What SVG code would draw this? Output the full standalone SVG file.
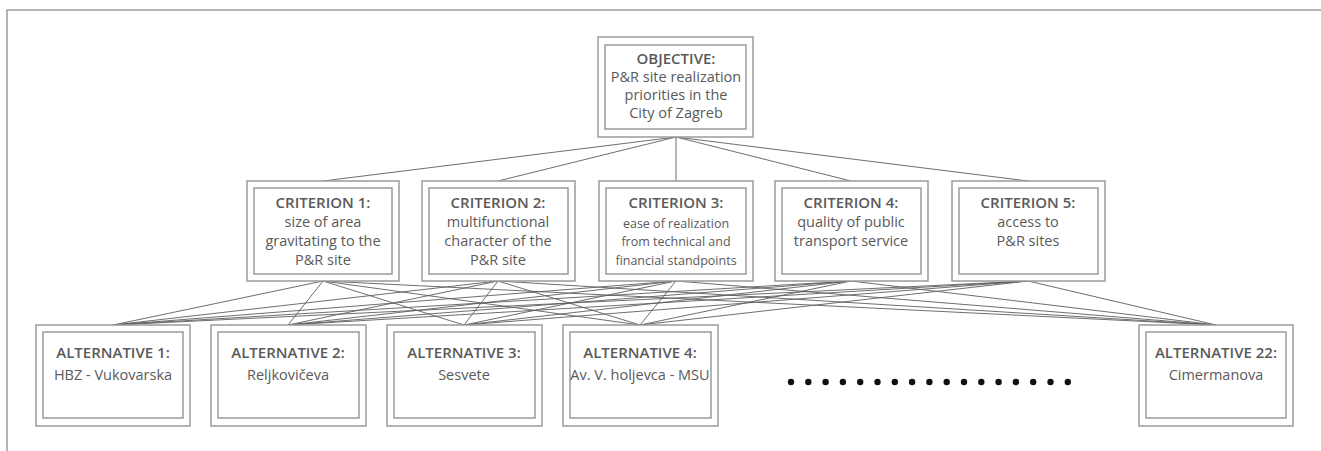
<svg xmlns="http://www.w3.org/2000/svg" width="1321" height="451" viewBox="0 0 1321 451">
<style>
.o{fill:#fff;stroke:#9a9a9a;stroke-width:1.5}
.i{fill:none;stroke:#9a9a9a;stroke-width:1.5}
text{font-family:"Open Sans","Noto Sans",sans-serif;fill:#5a5a5a;text-anchor:middle;font-size:14.5px}
.h{font-weight:600;font-size:15px}
.s{font-size:12.5px}
.c line{stroke:#5e5e5e;stroke-width:0.9}
.frame{stroke:#9a9a9a;stroke-width:1.5;fill:none}
</style>
<rect width="1321" height="451" fill="#fff"/>
<path class="frame" d="M7,451 V10 H1321"/>
<g class="c" id="connectors">
<line x1="676" y1="137" x2="323" y2="181"/>
<line x1="676" y1="137" x2="498" y2="181"/>
<line x1="676" y1="137" x2="676" y2="181"/>
<line x1="676" y1="137" x2="851" y2="181"/>
<line x1="676" y1="137" x2="1028" y2="181"/>
<line x1="323" y1="281" x2="113" y2="325"/><line x1="323" y1="281" x2="288" y2="325"/><line x1="323" y1="281" x2="464" y2="325"/><line x1="323" y1="281" x2="640" y2="325"/><line x1="323" y1="281" x2="1216" y2="325"/>
<line x1="498" y1="281" x2="113" y2="325"/><line x1="498" y1="281" x2="288" y2="325"/><line x1="498" y1="281" x2="464" y2="325"/><line x1="498" y1="281" x2="640" y2="325"/><line x1="498" y1="281" x2="1216" y2="325"/>
<line x1="676" y1="281" x2="113" y2="325"/><line x1="676" y1="281" x2="288" y2="325"/><line x1="676" y1="281" x2="464" y2="325"/><line x1="676" y1="281" x2="640" y2="325"/><line x1="676" y1="281" x2="1216" y2="325"/>
<line x1="851" y1="281" x2="113" y2="325"/><line x1="851" y1="281" x2="288" y2="325"/><line x1="851" y1="281" x2="464" y2="325"/><line x1="851" y1="281" x2="640" y2="325"/><line x1="851" y1="281" x2="1216" y2="325"/>
<line x1="1028" y1="281" x2="113" y2="325"/><line x1="1028" y1="281" x2="288" y2="325"/><line x1="1028" y1="281" x2="464" y2="325"/><line x1="1028" y1="281" x2="640" y2="325"/><line x1="1028" y1="281" x2="1216" y2="325"/>
</g>
<g id="objective">
<rect class="o" x="598" y="37" width="155" height="100"/>
<rect class="i" x="605" y="45" width="141" height="84"/>
<text x="676" y="64" class="h">OBJECTIVE:</text>
<text x="676" y="82">P&amp;R site realization</text>
<text x="676" y="100">priorities in the</text>
<text x="676" y="118">City of Zagreb</text>
</g>
<g id="criterion1">
<rect class="o" x="247" y="181" width="152" height="100"/>
<rect class="i" x="254" y="188" width="138" height="86"/>
<text x="323" y="208" class="h">CRITERION 1:</text>
<text x="323" y="227">size of area</text>
<text x="323" y="246">gravitating to the</text>
<text x="323" y="265">P&amp;R site</text>
</g>
<g id="criterion2">
<rect class="o" x="422" y="181" width="153" height="100"/>
<rect class="i" x="429" y="188" width="139" height="86"/>
<text x="498" y="208" class="h">CRITERION 2:</text>
<text x="498" y="227">multifunctional</text>
<text x="498" y="246">character of the</text>
<text x="498" y="265">P&amp;R site</text>
</g>
<g id="criterion3">
<rect class="o" x="599" y="181" width="154" height="100"/>
<rect class="i" x="606" y="188" width="140" height="86"/>
<text x="676" y="208" class="h">CRITERION 3:</text>
<text x="676" y="228" class="s">ease of realization</text>
<text x="676" y="246" class="s">from technical and</text>
<text x="676" y="265" class="s">financial standpoints</text>
</g>
<g id="criterion4">
<rect class="o" x="775" y="181" width="153" height="100"/>
<rect class="i" x="782" y="188" width="139" height="86"/>
<text x="851" y="208" class="h">CRITERION 4:</text>
<text x="851" y="227">quality of public</text>
<text x="851" y="246">transport service</text>
</g>
<g id="criterion5">
<rect class="o" x="952" y="181" width="153" height="100"/>
<rect class="i" x="959" y="188" width="139" height="86"/>
<text x="1028" y="208" class="h">CRITERION 5:</text>
<text x="1028" y="227">access to</text>
<text x="1028" y="246">P&amp;R sites</text>
</g>
<g id="alternative1">
<rect class="o" x="36" y="325" width="154" height="101"/>
<rect class="i" x="43" y="332" width="140" height="86"/>
<text x="113" y="358" class="h">ALTERNATIVE 1:</text>
<text x="113" y="380">HBZ - Vukovarska</text>
</g>
<g id="alternative2">
<rect class="o" x="211" y="325" width="155" height="101"/>
<rect class="i" x="218" y="332" width="141" height="86"/>
<text x="288" y="358" class="h">ALTERNATIVE 2:</text>
<text x="288" y="380">Reljkovičeva</text>
</g>
<g id="alternative3">
<rect class="o" x="387" y="325" width="155" height="101"/>
<rect class="i" x="394" y="332" width="141" height="86"/>
<text x="464" y="358" class="h">ALTERNATIVE 3:</text>
<text x="464" y="380">Sesvete</text>
</g>
<g id="alternative4">
<rect class="o" x="563" y="325" width="155" height="101"/>
<rect class="i" x="570" y="332" width="141" height="86"/>
<text x="640" y="358" class="h">ALTERNATIVE 4:</text>
<text x="640" y="380">Av. V. holjevca - MSU</text>
</g>
<g id="ellipsis" fill="#111">
<circle cx="791" cy="382" r="3.2"/><circle cx="808.3" cy="382" r="3.2"/><circle cx="825.6" cy="382" r="3.2"/><circle cx="842.9" cy="382" r="3.2"/><circle cx="860.2" cy="382" r="3.2"/><circle cx="877.5" cy="382" r="3.2"/><circle cx="894.8" cy="382" r="3.2"/><circle cx="912.1" cy="382" r="3.2"/><circle cx="929.4" cy="382" r="3.2"/><circle cx="946.7" cy="382" r="3.2"/><circle cx="964" cy="382" r="3.2"/><circle cx="981.3" cy="382" r="3.2"/><circle cx="998.6" cy="382" r="3.2"/><circle cx="1015.9" cy="382" r="3.2"/><circle cx="1033.2" cy="382" r="3.2"/><circle cx="1050.5" cy="382" r="3.2"/><circle cx="1067.8" cy="382" r="3.2"/>
</g>
<g id="alternative22">
<rect class="o" x="1139" y="325" width="154" height="101"/>
<rect class="i" x="1146" y="332" width="140" height="86"/>
<text x="1216" y="358" class="h">ALTERNATIVE 22:</text>
<text x="1216" y="380">Cimermanova</text>
</g>
</svg>
